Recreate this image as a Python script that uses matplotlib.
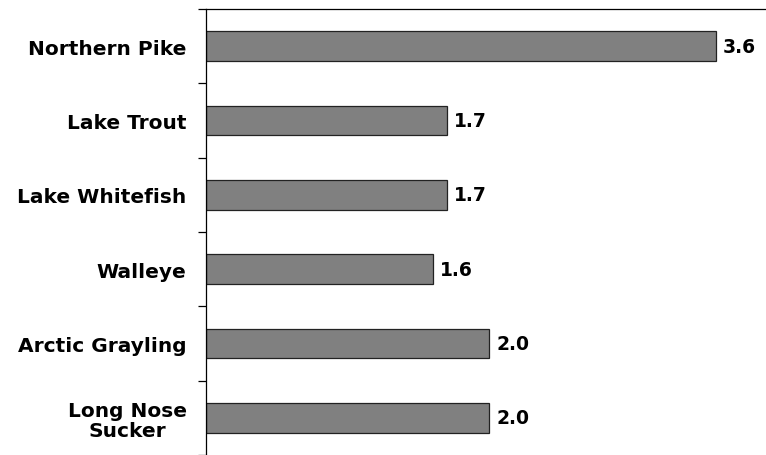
import matplotlib.pyplot as plt
import numpy as np

species = ["Northern Pike", "Lake Trout", "Lake Whitefish", "Walleye",
           "Arctic Grayling", "Long Nose\nSucker"]
values = [3.6, 1.7, 1.7, 1.6, 2.0, 2.0]

fig = plt.figure(figsize=(7.66, 4.56), dpi=100)
ax = fig.add_axes([206 / 766, 0, 560 / 766, 446 / 456])

y = np.arange(len(species))
ax.barh(y, values, height=0.40, color="#808080", edgecolor="#222222", linewidth=0.9)
for yi, v in zip(y, values):
    ax.text(v + 0.05, yi, f"{v:.1f}", va="center", ha="left",
            fontsize=13.5, fontweight="bold")

ax.set_xlim(0, 3.955)
ax.set_ylim(len(species) - 0.5, -0.5)
ax.set_yticks(y)
ax.set_yticklabels(species, fontsize=14.5, fontweight="bold", linespacing=1.1)
ax.tick_params(axis="y", which="major", length=0, pad=14)
ax.set_yticks(np.arange(len(species) + 1) - 0.5, minor=True)
ax.tick_params(axis="y", which="minor", length=6, width=0.9, direction="out")
for lbl in ax.get_yticklabels():
    lbl.set_horizontalalignment("right")
    lbl.set_multialignment("center")
ax.set_xticks([])
ax.spines["right"].set_visible(False)
ax.spines["bottom"].set_visible(False)
ax.spines["left"].set_linewidth(0.9)
ax.spines["top"].set_linewidth(0.9)

plt.savefig("out.png")
plt.close()
